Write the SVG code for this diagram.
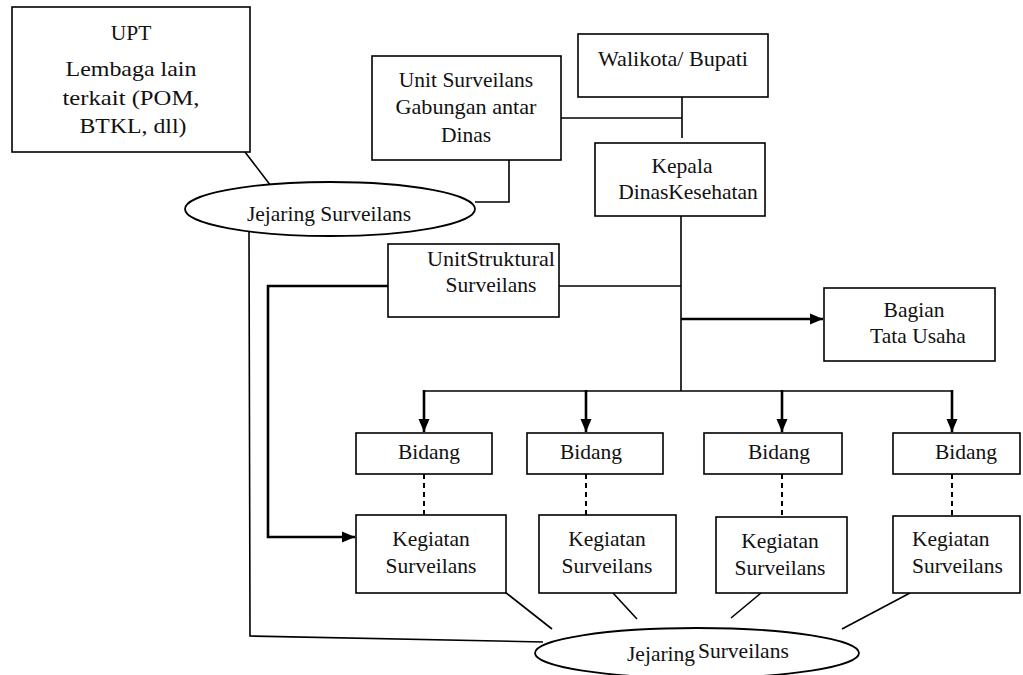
<svg xmlns="http://www.w3.org/2000/svg" width="1023" height="675" viewBox="0 0 1023 675">
<style>
  .box { fill: #fff; stroke: #000; stroke-width: 1.6; }
  .ell { fill: #fff; stroke: #000; stroke-width: 1.8; }
  text { font-family: "Liberation Serif", serif; font-size: 21.5px; fill: #111; }
  .m { text-anchor: middle; }
  .ln { fill: none; stroke: #000; stroke-width: 1.6; }
  .thick { fill: none; stroke: #000; stroke-width: 2.6; }
  .dash { fill: none; stroke: #000; stroke-width: 2; stroke-dasharray: 5 4; }
</style>
<defs>
  <marker id="ah" markerUnits="userSpaceOnUse" markerWidth="14" markerHeight="14" viewBox="0 0 14 14" refX="13" refY="7" orient="auto">
    <path d="M0,1.5 L13,7 L0,12.5 Z" fill="#000"/>
  </marker>
</defs>

<g id="connectors">
  <line class="ln" x1="245" y1="152" x2="271" y2="186"/>
  <polyline class="ln" points="509,160 509,202 475,202"/>
  <line class="ln" x1="682" y1="97" x2="682" y2="138"/>
  <line class="ln" x1="561" y1="118" x2="682" y2="118"/>
  <line class="ln" x1="681" y1="216" x2="681" y2="391"/>
  <line class="ln" x1="559" y1="286" x2="681" y2="286"/>
  <polyline class="thick" points="388,286 268,286 268,537 355,537" marker-end="url(#ah)"/>
  <line class="thick" x1="681" y1="319" x2="823" y2="319" marker-end="url(#ah)"/>
  <line class="ln" x1="424" y1="391" x2="953" y2="391"/>
  <line class="thick" x1="424" y1="390" x2="424" y2="432" marker-end="url(#ah)"/>
  <line class="thick" x1="586" y1="390" x2="586" y2="432" marker-end="url(#ah)"/>
  <line class="thick" x1="782" y1="390" x2="782" y2="432" marker-end="url(#ah)"/>
  <line class="thick" x1="952" y1="390" x2="952" y2="432" marker-end="url(#ah)"/>
  <line class="dash" x1="424" y1="474" x2="424" y2="515"/>
  <line class="dash" x1="586" y1="474" x2="586" y2="515"/>
  <line class="dash" x1="782" y1="474" x2="782" y2="516"/>
  <line class="dash" x1="952" y1="474" x2="952" y2="515"/>
  <line class="ln" x1="505" y1="592" x2="552" y2="629"/>
  <line class="ln" x1="613" y1="593" x2="637" y2="619"/>
  <line class="ln" x1="761" y1="593" x2="731" y2="618"/>
  <line class="ln" x1="910" y1="593" x2="842" y2="629"/>
  <polyline class="ln" points="249,230 250,636 543,642"/>
</g>

<g id="upt">
  <rect class="box" x="12" y="7" width="238" height="145"/>
  <text class="m" x="131" y="40">UPT</text>
  <text class="m" x="131" y="76" textLength="131" lengthAdjust="spacingAndGlyphs">Lembaga lain</text>
  <text class="m" x="131" y="105" textLength="137" lengthAdjust="spacingAndGlyphs">terkait (POM,</text>
  <text class="m" x="133" y="133" textLength="107" lengthAdjust="spacingAndGlyphs">BTKL, dll)</text>
</g>

<g id="jejaring-top">
  <ellipse class="ell" cx="330" cy="209" rx="145" ry="27"/>
  <text class="m" x="329" y="221">Jejaring Surveilans</text>
</g>

<g id="unit-gabungan">
  <rect class="box" x="372" y="56" width="189" height="104"/>
  <text class="m" x="466" y="87">Unit Surveilans</text>
  <text class="m" x="466" y="114" textLength="141" lengthAdjust="spacingAndGlyphs">Gabungan antar</text>
  <text class="m" x="466" y="142">Dinas</text>
</g>

<g id="walikota">
  <rect class="box" x="578" y="34" width="190" height="63"/>
  <text class="m" x="673" y="66" textLength="150" lengthAdjust="spacingAndGlyphs">Walikota/ Bupati</text>
</g>

<g id="kepala">
  <rect class="box" x="595" y="143" width="170" height="73"/>
  <text class="m" x="682" y="173">Kepala</text>
  <text class="m" x="688" y="199">DinasKesehatan</text>
</g>

<g id="unit-struktural">
  <rect class="box" x="388" y="244" width="171" height="73"/>
  <text x="427" y="266" textLength="128" lengthAdjust="spacingAndGlyphs">UnitStruktural</text>
  <text class="m" x="491" y="292">Surveilans</text>
</g>

<g id="bagian">
  <rect class="box" x="824" y="288" width="171" height="73"/>
  <text class="m" x="914" y="317">Bagian</text>
  <text class="m" x="918" y="343">Tata Usaha</text>
</g>

<g id="bidang1">
  <rect class="box" x="356" y="433" width="136" height="41"/>
  <text class="m" x="429" y="459">Bidang</text>
</g>
<g id="bidang2">
  <rect class="box" x="527" y="433" width="136" height="41"/>
  <text class="m" x="591" y="459">Bidang</text>
</g>
<g id="bidang3">
  <rect class="box" x="704" y="433" width="138" height="41"/>
  <text class="m" x="779" y="459">Bidang</text>
</g>
<g id="bidang4">
  <rect class="box" x="893" y="433" width="127" height="41"/>
  <text class="m" x="966" y="459">Bidang</text>
</g>

<g id="kegiatan1">
  <rect class="box" x="356" y="515" width="150" height="78"/>
  <text class="m" x="431" y="546">Kegiatan</text>
  <text class="m" x="431" y="573">Surveilans</text>
</g>
<g id="kegiatan2">
  <rect class="box" x="539" y="515" width="137" height="78"/>
  <text class="m" x="607" y="546">Kegiatan</text>
  <text class="m" x="607" y="573">Surveilans</text>
</g>
<g id="kegiatan3">
  <rect class="box" x="716" y="517" width="131" height="76"/>
  <text class="m" x="780" y="548">Kegiatan</text>
  <text class="m" x="780" y="575">Surveilans</text>
</g>
<g id="kegiatan4">
  <rect class="box" x="893" y="516" width="127" height="77"/>
  <text x="912" y="546">Kegiatan</text>
  <text x="912" y="573">Surveilans</text>
</g>

<g id="jejaring-bottom">
  <ellipse class="ell" cx="697" cy="653" rx="162" ry="25"/>
  <text x="627" y="661">Jejaring</text>
  <text x="698" y="658">Surveilans</text>
</g>
</svg>
